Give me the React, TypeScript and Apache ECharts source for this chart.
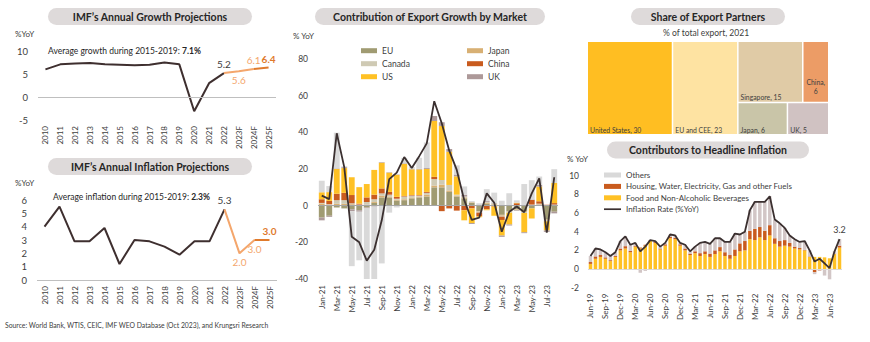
import React, { useEffect, useRef } from 'react';
import * as echarts from 'echarts';

const FONT = 'Lato, "Noto Sans", sans-serif';
const TXT = '#404040';

// ---------- Annual charts ----------
const years = ['2010', '2011', '2012', '2013', '2014', '2015', '2016', '2017', '2018', '2019', '2020', '2021', '2022', '2023F', '2024F', '2025F'];
const growthActual = [6.0, 7.1, 7.3, 7.4, 7.1, 7.0, 6.9, 7.0, 7.5, 7.1, -3.1, 3.0, 5.2];
const growthForecast = [5.6, 6.1, 6.4];
const inflationActual = [4.0, 5.5, 2.9, 2.9, 3.9, 1.2, 3.0, 2.9, 2.5, 1.9, 2.9, 2.9, 5.3];
const inflationForecast = [2.0, 3.0, 3.0];

// ---------- Export growth contribution ----------
const exportMonths = ['Jan-21', 'Feb-21', 'Mar-21', 'Apr-21', 'May-21', 'Jun-21', 'Jul-21', 'Aug-21', 'Sep-21', 'Oct-21', 'Nov-21', 'Dec-21', 'Jan-22', 'Feb-22', 'Mar-22', 'Apr-22', 'May-22', 'Jun-22', 'Jul-22', 'Aug-22', 'Sep-22', 'Oct-22', 'Nov-22', 'Dec-22', 'Jan-23', 'Feb-23', 'Mar-23', 'Apr-23', 'May-23', 'Jun-23', 'Jul-23', 'Aug-23'];
const exportEU = [-6.5, -5.5, -1, -1.5, -2, -2.5, -1, 1.5, 4.5, 4.5, 2.8, 3, 4, 4.5, 5, 10, 10, 7.5, 5, 4, 1.5, -3, 1, 0.5, -5, -3, -2, -3, -1.5, 0.5, -7.5, -3.3];
const exportJapan = [1.2, 0.5, 1, 1, 0.8, 0.3, 0.5, 0.5, 1, 0.5, 0.5, 0.5, 0.5, 0.5, 1, 1, 1.5, 0.8, 0.5, 0.5, 0.3, -0.3, 0.5, 0.3, -0.5, -0.3, -0.3, -0.5, 0.3, 0.3, -0.5, 0.3];
const exportCanada = [0.3, 0.3, 2, 2, 0.5, 0.3, 1.5, 1.5, 1.2, 1, 0.5, 1.5, 1, 0.5, 1, 3.5, 2.5, 3, 0.5, 0.5, 0.2, -0.5, 0.5, 0.5, -0.5, -0.5, -0.3, -0.5, 0.3, 0.3, -0.5, 0.3];
const exportChina = [2, 1.8, 3.5, 4, 4.5, 0.5, 2.5, 2.5, 2.7, 1.5, 1, 0.3, 0.3, 0.3, 0.5, 1.2, -3, -1.5, -2.7, -2.5, -1.5, -2, -2, -0.5, -1.8, 0.3, 1.3, 0.3, 2.5, 1.3, 0.5, 0.8];
const exportUS = [3.8, 4.8, 13.5, 13.5, 9.7, 9, 7.3, 13.5, 14, 10.5, 12, 17.5, 14, 14, 12.5, 30.5, 29.5, 18.1, 10, -5.5, -8, -0.5, -0.5, -5, -8.5, -6.5, 0.3, -10.5, -5.5, 8, -5, 11];
const exportUK = [-1.5, -0.6, 0.3, 0.5, -1, -0.8, -0.5, -0.5, 0.3, 0.2, 0.2, 0.3, 0.3, 0.3, 0.5, 2.7, 2, 1.5, 1, 1, -0.5, 0.3, 0.5, 0.3, -0.7, -0.5, -0.3, -0.5, 0.3, 1, -0.8, -0.9];
const exportOthers = [6.3, 3.3, 19.5, 0.5, -30, -26.5, -38.5, -39.5, -31.5, -3.8, -1, 3, 1, 6, 14, 0, 0, 0, 5, 4.5, 0.5, 1, 6.5, 5.5, 2.7, 6.5, 1.3, 11.5, 10.5, 4.5, 0, 7.5];
const exportTotal = [5.5, 3.6, 39.5, 21, -17, -20, -30, -24, -8, 14.5, 18, 26.5, 20.5, 27, 34, 57, 45, 30, 19.5, 3, -7.8, -6.5, 6.7, 1.6, -14.2, -3.3, -0.5, -3.6, 6.7, 14.9, -14.7, 15.5];

// ---------- Share of export partners ----------
// (ties are ordered by the treemap with the later entry first)
const partners = ['United States', 'EU and CEE', 'Singapore', 'Japan', 'China', 'UK'];
const partnerShares = [30, 23, 15, 6, 6, 5];

// ---------- Contributors to headline inflation ----------
const inflMonths = ['Jun-19', 'Jul-19', 'Aug-19', 'Sep-19', 'Oct-19', 'Nov-19', 'Dec-19',
  'Jan-20', 'Feb-20', 'Mar-20', 'Apr-20', 'May-20', 'Jun-20', 'Jul-20', 'Aug-20', 'Sep-20', 'Oct-20', 'Nov-20', 'Dec-20',
  'Jan-21', 'Feb-21', 'Mar-21', 'Apr-21', 'May-21', 'Jun-21', 'Jul-21', 'Aug-21', 'Sep-21', 'Oct-21', 'Nov-21', 'Dec-21',
  'Jan-22', 'Feb-22', 'Mar-22', 'Apr-22', 'May-22', 'Jun-22', 'Jul-22', 'Aug-22', 'Sep-22', 'Oct-22', 'Nov-22', 'Dec-22',
  'Jan-23', 'Feb-23', 'Mar-23', 'Apr-23', 'May-23', 'Jun-23', 'Jul-23', 'Aug-23'];
const foodContrib = [0.55, 1.1, 1.3, 1.1, 0.85, 1.3, 2.0, 2.2, 1.8, 2.4, 2.2, 2.5, 3.0, 2.8, 2.1, 2.5, 3.3, 3.2, 2.5, 2.0, 1.5, 1.7, 1.4, 1.6, 1.3, 1.6, 1.9, 1.4, 1.1, 1.4, 1.9, 2.0, 3.2, 3.1, 3.4, 3.1, 3.6, 2.7, 2.4, 2.5, 2.4, 2.2, 2.1, 2.0, 1.3, 1.3, 1.3, 1.25, 1.15, 1.6, 2.3];
const housingContrib = [0.2, 0.25, 0.2, 0.15, 0.1, 0.1, 0.2, 0.25, 0.15, 0.1, 0.1, 0.1, 0.05, 0.1, 0.1, 0.15, 0.15, 0.15, 0.15, 0.2, 0.15, 0.2, 0.3, 0.3, 0.35, 0.4, 0.45, 0.4, 0.4, 0.7, 0.85, 1.0, 0.9, 1.2, 1.1, 1.0, 1.1, 0.6, 0.6, 0.6, 0.4, 0.2, 0.15, 0.05, 0.05, -0.35, -0.15, -0.05, -0.1, 0.05, 0.2];
const othersContrib = [0.65, 0.85, 0.6, 0.55, 0.45, 0.4, 0.8, 1.05, 0.65, 0.3, -0.4, -0.2, 0.05, 0.1, 0.2, 0.15, 0.25, 0.25, 0.15, 0.4, 0.25, 0.5, 1.1, 1.0, 1.05, 1.3, 0.95, 1.1, 1.4, 1.7, 1.0, 1.0, 2.2, 2.9, 2.7, 3.1, 3.1, 2.0, 1.9, 1.3, 0.8, 0.7, 0.6, 0.9, 0.65, -0.2, -0.05, -0.65, -1.0, 0.25, 0.7];
const inflationRate = [1.4, 2.2, 2.1, 1.8, 1.4, 1.8, 3.0, 3.5, 2.6, 2.8, 1.9, 2.4, 3.1, 3.0, 2.4, 2.8, 3.7, 3.6, 2.8, 2.6, 1.9, 2.4, 2.8, 2.9, 2.7, 3.3, 3.3, 2.9, 2.9, 3.8, 3.7, 4.0, 6.3, 7.2, 7.2, 7.2, 7.8, 5.3, 4.9, 4.4, 3.6, 3.2, 2.9, 3.0, 2.0, 0.8, 1.1, 0.6, 0.1, 1.9, 3.2];

// ---------- styles ----------
const HIST = '#3E2F2F';
const FC_LIGHT = '#F4A66C';
const FC_DARK = '#E07A2C';
const PILL = '#DEDADA';
const EXPORT_COLORS: Record<string, string> = {
  EU: '#A09B72', Japan: '#D8B074', Canada: '#CFCAB4', China: '#C95B1E', US: '#FFC125', UK: '#AD9999', Others: '#D9D9D9',
};
const PARTNER_COLORS: Record<string, string> = {
  'United States': '#FFBE22', 'EU and CEE': '#FEE3A2', Singapore: '#E0CBA6', China: '#EC9C66', Japan: '#C9C5A8', UK: '#D0C2C2',
};

const avg = (arr: number[], from: number, to: number) => {
  const s = arr.slice(from, to + 1);
  return s.reduce((a, b) => a + b, 0) / s.length;
};

const fmt1 = (p: any) => Number(Array.isArray(p.value) ? p.value[1] : p.value).toFixed(1);

function annualSeries(actual: number[], forecast: number[], gi: number, pos2024: string) {
  const n = actual.length;
  const lbl = (v: number, position: string, color: string, bold = false) => ({
    value: v,
    label: { show: true, position, color, fontWeight: bold ? 'bold' : 'normal' },
  });
  const hist = years.map((_, i) => (i < n ? (i === n - 1 ? lbl(actual[i], 'top', TXT) : actual[i]) : null));
  const f1 = years.map((_, i) => {
    if (i === n - 1) return actual[n - 1];
    if (i === n) return lbl(forecast[0], 'bottom', FC_LIGHT);
    if (i === n + 1) return lbl(forecast[1], pos2024, FC_LIGHT);
    return null;
  });
  const f2 = years.map((_, i) => {
    if (i === n + 1) return forecast[1];
    if (i === n + 2) return lbl(forecast[2], 'top', FC_DARK, true);
    return null;
  });
  const base = {
    type: 'line', xAxisIndex: gi, yAxisIndex: gi, symbol: 'circle', symbolSize: 0.1, showSymbol: true,
    showAllSymbol: true, silent: true,
    label: { show: false, formatter: fmt1, fontSize: 10, fontFamily: FONT, distance: 4 },
  };
  return [
    {
      ...base, name: 'hist' + gi, data: hist, itemStyle: { color: HIST }, lineStyle: { color: HIST, width: 2 },
      markLine: {
        silent: true, symbol: ['none', 'none'], label: { show: false },
        lineStyle: { color: '#BFBFBF', width: 1, type: 'solid' }, data: [{ yAxis: 0 }],
      },
    },
    { ...base, name: 'fc1' + gi, data: f1, itemStyle: { color: FC_LIGHT }, lineStyle: { color: FC_LIGHT, width: 2 } },
    { ...base, name: 'fc2' + gi, data: f2, itemStyle: { color: FC_DARK }, lineStyle: { color: FC_DARK, width: 2 } },
  ];
}

const catAxis = (gridIndex: number, data: string[], interval: number) => ({
  type: 'category', gridIndex, data, boundaryGap: true,
  axisLine: { show: false, onZero: false }, axisTick: { show: false }, splitLine: { show: false },
  axisLabel: { rotate: 90, interval, fontSize: 8, color: TXT, margin: 6, fontFamily: FONT },
});
const valAxis = (gridIndex: number, min: number, max: number, interval: number, fontSize: number, margin: number) => ({
  type: 'value', gridIndex, min, max, interval,
  axisLine: { show: false }, axisTick: { show: false }, splitLine: { show: false },
  axisLabel: { fontSize, color: TXT, margin, fontFamily: FONT },
});

function pill(cx: number, cy: number, w: number, text: string) {
  return [
    { type: 'rect', silent: true, shape: { x: cx - w / 2, y: cy - 8.5, width: w, height: 17, r: 8.5 }, style: { fill: PILL } },
    {
      type: 'text', silent: true, x: cx, y: cy,
      style: { text, fill: '#262626', fontSize: 10.5, fontWeight: 'bold', fontFamily: FONT, align: 'center', verticalAlign: 'middle' },
    },
  ];
}
function txt(x: number, y: number, text: string, fontSize: number, align = 'left', extra: any = {}) {
  return {
    type: 'text', silent: true, x, y,
    style: { text, fill: TXT, fontSize, fontFamily: FONT, align, verticalAlign: 'middle', ...extra },
  };
}

function buildOption() {
  const gAvg = avg(growthActual, 5, 9).toFixed(1);
  const iAvg = avg(inflationActual, 5, 9).toFixed(1);

  const exportParts: [string, number[]][] = [
    ['EU', exportEU], ['Japan', exportJapan], ['Canada', exportCanada], ['China', exportChina],
    ['US', exportUS], ['UK', exportUK], ['Others', exportOthers],
  ];

  const richAvg = (a: string, b: string) => ({
    text: `{n|${a}}{b|${b}}`,
    rich: {
      n: { fontSize: 8.5, fontFamily: FONT, fill: '#262626', color: '#262626' },
      b: { fontSize: 8.5, fontFamily: FONT, fontWeight: 'bold', fill: '#262626', color: '#262626' },
    },
  });

  const lastIdx = inflationRate.length - 1;

  return {
    animation: false,
    textStyle: { fontFamily: FONT },
    graphic: [
      ...pill(150, 16.5, 204, 'IMF\u2019s Annual Growth Projections'),
      ...pill(150, 166.5, 204, 'IMF\u2019s Annual Inflation Projections'),
      ...pill(430, 16.5, 230, 'Contribution of Export Growth by Market'),
      ...pill(708, 16.5, 154, 'Share of Export Partners'),
      ...pill(708, 150, 202, 'Contributors to Headline Inflation'),
      txt(15, 34, '%YoY', 8),
      txt(15, 183, '%YoY', 8),
      txt(293, 36, '% YoY', 8),
      txt(567, 159, '% YoY', 8),
      txt(706, 33, '% of total export, 2021', 8.5, 'center'),
      txt(5, 325, 'Source: World Bank, WTIS, CEIC, IMF WEO Database (Oct 2023), and Krungsri Research', 6.8),
      { type: 'text', silent: true, x: 48, y: 51, style: { ...richAvg('Average growth during 2015-2019: ', gAvg + '%'), verticalAlign: 'middle' } },
      { type: 'text', silent: true, x: 53, y: 197, style: { ...richAvg('Average inflation during 2015-2019: ', iAvg + '%'), verticalAlign: 'middle' } },
    ],
    grid: [
      { left: 38, top: 51, width: 238, height: 69, outerBoundsMode: 'none' },
      { left: 37, top: 200, width: 240, height: 80, outerBoundsMode: 'none' },
      { left: 318, top: 59, width: 240, height: 220, outerBoundsMode: 'none' },
      { left: 588, top: 175.7, width: 254, height: 112, outerBoundsMode: 'none' },
    ],
    xAxis: [
      catAxis(0, years, 0),
      catAxis(1, years, 0),
      catAxis(2, exportMonths, 1),
      catAxis(3, inflMonths, 2),
    ],
    yAxis: [
      valAxis(0, -5, 10, 5, 9.5, 10),
      valAxis(1, 0, 6, 1, 9.5, 10),
      valAxis(2, -40, 80, 20, 8.5, 10),
      valAxis(3, -2, 10, 2, 8.5, 9),
    ],
    legend: [
      {
        data: ['EU', 'Canada', 'US'], orient: 'vertical', left: 356, top: 40.2, selectedMode: false,
        itemWidth: 16, itemHeight: 5, itemGap: 2, icon: 'rect',
        textStyle: { fontSize: 8.5, color: TXT, fontFamily: FONT, lineHeight: 11 },
      },
      {
        data: ['Japan', 'China', 'UK'], orient: 'vertical', left: 462, top: 40.2, selectedMode: false,
        itemWidth: 16, itemHeight: 5, itemGap: 2, icon: 'rect',
        textStyle: { fontSize: 8.5, color: TXT, fontFamily: FONT, lineHeight: 11 },
      },
      {
        data: [
          { name: 'Others', icon: 'rect' },
          { name: 'Housing, Water, Electricity, Gas and other Fuels', icon: 'rect' },
          { name: 'Food and Non-Alcoholic Beverages', icon: 'rect' },
          { name: 'Inflation Rate (%YoY)', icon: 'path://M0,0H20V2H0Z' },
        ],
        orient: 'vertical', left: 599, top: 165, selectedMode: false,
        itemWidth: 17, itemHeight: 5, itemGap: 1.4,
        textStyle: { fontSize: 8, color: TXT, fontFamily: FONT, lineHeight: 10 },
      },
    ],
    series: [
      ...annualSeries(growthActual, growthForecast, 0, 'top'),
      ...annualSeries(inflationActual, inflationForecast, 1, 'bottom'),
      ...exportParts.map(([name, data]) => ({
        type: 'bar', name, data, xAxisIndex: 2, yAxisIndex: 2, stack: 'exp', barCategoryGap: '22%',
        itemStyle: { color: EXPORT_COLORS[name] }, silent: true,
      })),
      {
        type: 'line', name: 'Total export growth', data: exportTotal, xAxisIndex: 2, yAxisIndex: 2,
        symbol: 'none', lineStyle: { color: '#3B3030', width: 1.8 }, itemStyle: { color: '#3B3030' }, z: 5, silent: true,
        markLine: {
          silent: true, symbol: ['none', 'none'], label: { show: false },
          lineStyle: { color: '#A6A6A6', width: 1, type: 'solid' }, data: [{ yAxis: 0 }],
        },
      },
      {
        type: 'bar', name: 'Food and Non-Alcoholic Beverages', data: foodContrib, xAxisIndex: 3, yAxisIndex: 3,
        stack: 'inf', barCategoryGap: '30%', itemStyle: { color: '#FFC125' }, silent: true,
      },
      {
        type: 'bar', name: 'Housing, Water, Electricity, Gas and other Fuels', data: housingContrib, xAxisIndex: 3, yAxisIndex: 3,
        stack: 'inf', barCategoryGap: '30%', itemStyle: { color: '#C95B1E' }, silent: true,
      },
      {
        type: 'bar', name: 'Others', data: othersContrib, xAxisIndex: 3, yAxisIndex: 3,
        stack: 'inf', barCategoryGap: '30%', itemStyle: { color: '#D2C6C6' }, silent: true,
      },
      {
        type: 'line', name: 'Inflation Rate (%YoY)', xAxisIndex: 3, yAxisIndex: 3, z: 5, silent: true,
        data: inflationRate.map((v, i) => (i === lastIdx
          ? {
            value: v, symbol: 'circle', symbolSize: 0.1,
            label: { show: true, position: 'top', formatter: fmt1, color: TXT, fontSize: 9, fontFamily: FONT },
          }
          : v)),
        symbol: 'none', showSymbol: true, showAllSymbol: true,
        lineStyle: { color: '#3B3030', width: 1.8 }, itemStyle: { color: '#3B3030' },
        markLine: {
          silent: true, symbol: ['none', 'none'], label: { show: false },
          lineStyle: { color: '#D9D9D9', width: 1, type: 'solid' }, data: [{ yAxis: 0 }],
        },
      },
      {
        type: 'treemap', left: 588, top: 42, width: 240, height: 92,
        roam: false, nodeClick: false, breadcrumb: { show: false }, squareRatio: 1.25, sort: 'desc', silent: true,
        itemStyle: { borderWidth: 0, gapWidth: 1.5, borderColor: '#ffffff' },
        label: {
          show: true, position: 'insideBottomLeft', formatter: '{b}, {c}', fontSize: 6.8, color: TXT, fontFamily: FONT,
          padding: [0, 0, 1, 2],
        },
        data: partners.map((name, i) => ({
          name, value: partnerShares[i], itemStyle: { color: PARTNER_COLORS[name] },
          ...(name === 'China'
            ? { label: { position: 'insideBottom', formatter: '{b},\n{c}', align: 'center', lineHeight: 9, padding: [0, 0, 6, 0] } }
            : {}),
        })),
      },
    ],
  };
}

export default function App() {
  const ref = useRef<HTMLDivElement>(null);
  useEffect(() => {
    const chart = echarts.init(ref.current!, null, { renderer: 'svg' });
    chart.setOption(buildOption() as any);
    return () => chart.dispose();
  }, []);
  return <div ref={ref} style={{ position: 'absolute', left: 0, top: 0, width: 870, height: 342, background: '#fff' }} />;
}
